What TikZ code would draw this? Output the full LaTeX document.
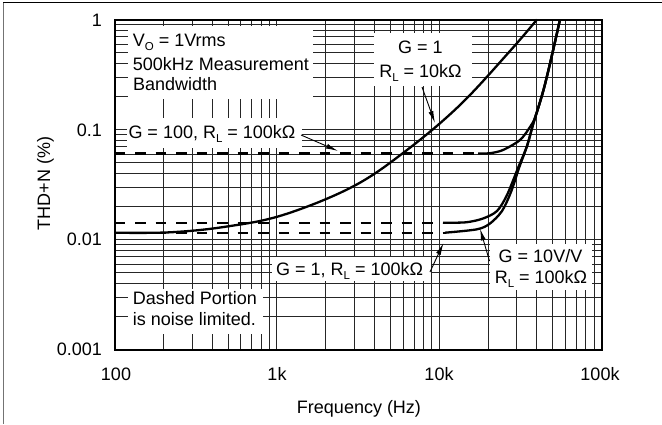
\documentclass[tikz,border=0pt]{standalone}
\usepackage{fontspec}
\setmainfont{Liberation Sans}
\usetikzlibrary{arrows.meta}
\newcommand{\mysub}[1]{\raisebox{-4pt}{\fontsize{11.5}{12}\selectfont #1}}
\tikzset{
  gridl/.style={line width=0.8pt, black!85},
  lbl/.style={inner sep=0pt, font=\fontsize{18}{21}\selectfont},
  curve/.style={line width=2.3pt, line join=round, line cap=butt},
  dashcurve/.style={line width=2.3pt, dash pattern=on 10.5pt off 10pt},
  arr/.style={line width=0.9pt, -{Latex[length=12pt,width=5pt]}},
}
\begin{document}
\begin{tikzpicture}[x=1pt,y=-1pt]
\useasboundingbox (0,0) rectangle (662,424);
% outer edges
\draw[black, line width=1.2pt] (3,2.5) -- (662,2.5);
\draw[black!55, line width=1.2pt] (3.5,2.5) -- (3.5,424);
% grid
\foreach \d in {0,1,2}{
  \foreach \k in {1,...,9}{
    \pgfmathsetmacro\xx{114.5+162.3*(\d+log10(\k))}
    \draw[gridl] (\xx,19.5) -- (\xx,349.5);
    \pgfmathsetmacro\yy{349.5-110*(\d+log10(\k))}
    \draw[gridl] (114.5,\yy) -- (601.5,\yy);
  }
}
% label backgrounds
\fill[white] (128,26) rectangle (313,99);
\fill[white] (127,118) rectangle (302,148);
\fill[white] (374,33) rectangle (472,86);
\fill[white] (272,257) rectangle (431,281);
\fill[white] (490,244) rectangle (592,290);
\fill[white] (128,289) rectangle (263,334);
% frame
\draw[line width=2pt] (114.5,19.5) rectangle (601.5,349.5);
% dashed (noise limited) portions
\draw[dashcurve] (114.5,153.5) -- (480,153.5);
\draw[dashcurve] (114.5,222.7) -- (443,222.7);
\draw[dashcurve] (114.5,232.7) -- (445,232.7);
% G = 1, RL = 10k
\draw[curve] plot[smooth, tension=0.6] coordinates {(114.5,232.7) (170,232.3) (225,226.8) (283,215) (353,186.5) (407,150) (460,105) (510,51) (537,19.5)};
% G = 100, RL = 100k
\draw[curve] plot[smooth, tension=0.5] coordinates {(478,153.5) (490,153.2) (503,150) (520,140) (530,127) (535.3,117) (543.5,90) (552,55) (560,19.5)};
% upper (0.014) curve
\draw[curve] plot[smooth, tension=0.5] coordinates {(443,222.7) (466,222.3) (483,218.5) (497,211) (507,195) (518,168) (527,146) (533.5,123) (543.5,90) (552,55) (560,19.5)};
% lower (0.0115) curve
\draw[curve] plot[smooth, tension=0.5] coordinates {(445,232.7) (477,229.3) (490,223.5) (502,211) (511,192) (519,168) (527,146) (533.5,123) (543.5,90) (552,55) (560,19.5)};
% tick labels
\node[lbl, anchor=base east] (t1) at (102,26.5) {1};
\node[lbl, anchor=base east] (t01) at (102,136.5) {0.1};
\node[lbl, anchor=base east] (t001) at (102,245.5) {0.01};
\node[lbl, anchor=base east] (t0001) at (102,355.5) {0.001};
\node[lbl, anchor=base] (f100) at (116,380.3) {100};
\node[lbl, anchor=base] (f1k) at (277,380.3) {1k};
\node[lbl, anchor=base] (f10k) at (439,380.3) {10k};
\node[lbl, anchor=base] (f100k) at (600,380.3) {100k};
\node[lbl, anchor=base] (xlab) at (359,413.5) {Frequency (Hz)};
\node[lbl, anchor=base, rotate=90] (ylab) at (50,183.5) {THD+N (\%)};
% annotation texts
\node[lbl, anchor=base west] (vo1) at (132.7,46) {V\mysub{O} = 1Vrms};
\node[lbl, anchor=base west] (vo2) at (132.7,70) {500kHz Measurement};
\node[lbl, anchor=base west] (vo3) at (133,90) {Bandwidth};
\node[lbl, anchor=base west] (g100) at (128.3,138.3) {G = 100, R\mysub{L} = 100kΩ};
\node[lbl, anchor=base] (g1a) at (420.5,53.3) {G = 1};
\node[lbl, anchor=base] (g1b) at (420.5,77) {R\mysub{L} = 10kΩ};
\node[lbl, anchor=base west] (g1c) at (276,275) {G = 1, R\mysub{L} = 100kΩ};
\node[lbl, anchor=base] (g10a) at (540.5,262) {G = 10V/V};
\node[lbl, anchor=base] (g10b) at (541,283.7) {R\mysub{L} = 100kΩ};
\node[lbl, anchor=base west] (dp1) at (132.7,304.7) {Dashed Portion};
\node[lbl, anchor=base west] (dp2) at (132.7,325.3) {is noise limited.};
% arrows
\coordinate (a1s) at (422,87);   \coordinate (a1e) at (435,123);
\coordinate (a2s) at (301,135);  \coordinate (a2e) at (338,151);
\coordinate (a3s) at (430,272);  \coordinate (a3e) at (443.5,243);
\coordinate (a4s) at (489.5,261);\coordinate (a4e) at (480,228.5);
\draw[arr] (a1s) -- (a1e);
\draw[arr] (a2s) -- (a2e);
\draw[arr] (a3s) -- (a3e);
\draw[arr] (a4s) -- (a4e);
\end{tikzpicture}
\end{document}
